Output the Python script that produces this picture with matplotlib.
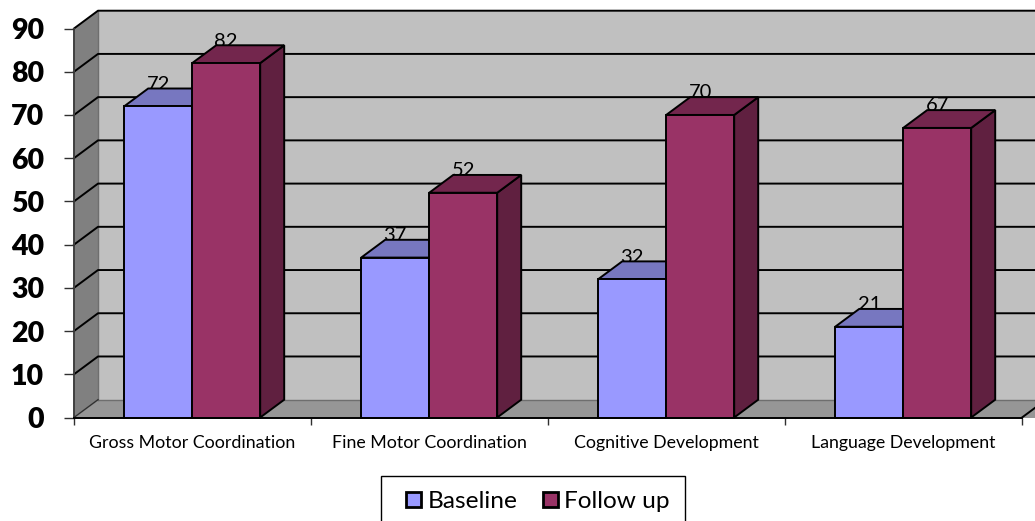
import numpy as np
import matplotlib
matplotlib.use("Agg")
import matplotlib.pyplot as plt
from matplotlib.patches import Patch, Polygon, Rectangle
from matplotlib.legend_handler import HandlerPatch

categories = ["Gross Motor Coordination", "Fine Motor Coordination",
              "Cognitive Development", "Language Development"]
baseline = [72, 37, 32, 21]
follow_up = [82, 52, 70, 67]
y_ticks = [0, 10, 20, 30, 40, 50, 60, 70, 80, 90]

W, H = 1035, 521
plt.rcParams['font.family'] = ['Lato', 'DejaVu Sans']

fig = plt.figure(figsize=(W / 100, H / 100), dpi=100)
# axes box is the front plane of the 3d chart
ax = fig.add_axes([74 / W, 1 - 417.5 / H, 948 / W, 389 / H])
ax.set_xlim(0, 4)
ax.set_ylim(0, 90)
ax.patch.set_visible(False)

# depth of the fake 3d box, in axis units
dx = 24 / 237
dy = 17.8 / (389 / 90)
bar_w = 68 / 237
bar_off = 50.2 / 237
xr = 4.2
edge = 1.4


def poly(pts, color, z, ec='none', lw=0):
    ax.add_patch(Polygon(pts, closed=True, facecolor=color, edgecolor=ec,
                         linewidth=lw, zorder=z, clip_on=False, joinstyle='miter'))


# walls and floor
poly([(dx, dy), (xr, dy), (xr, 90 + dy), (dx, 90 + dy)], '#c0c0c0', 1)
poly([(0, 0), (dx, dy), (dx, 90 + dy), (0, 90)], '#808080', 1.1)
poly([(0, 0), (xr, 0), (xr, dy), (dx, dy)], '#969696', 1.1)
ax.plot([dx, dx], [dy, 90 + dy], color='#6e6e6e', lw=1, zorder=1.2, clip_on=False)
ax.plot([dx, xr], [dy, dy], color='#6e6e6e', lw=1, zorder=1.2, clip_on=False)

# gridlines run across the back wall and down the side wall
for v in y_ticks[1:]:
    ax.plot([0, dx, xr], [v, v + dy, v + dy], color='black', lw=edge,
            zorder=1.5, clip_on=False)
ax.plot([0, 0], [0, 90], color='#404040', lw=edge, zorder=1.5, clip_on=False)
ax.plot([0, dx], [0, dy], color='#303030', lw=1, zorder=1.5, clip_on=False)
ax.plot([4, 4 + dx], [0, dy], color='black', lw=edge, zorder=1.5, clip_on=False)


def bar3d(x, v, front, top, side, z):
    poly([(x + bar_w, 0), (x + bar_w + dx, dy), (x + bar_w + dx, v + dy), (x + bar_w, v)],
         side, z, 'black', edge)
    poly([(x, v), (x + bar_w, v), (x + bar_w + dx, v + dy), (x + dx, v + dy)],
         top, z, 'black', edge)
    ax.bar(x, v, bar_w, align='edge', color=front, edgecolor='black',
           linewidth=edge, zorder=z, clip_on=False)


for i in range(len(categories)):
    x0 = i + bar_off
    x1 = x0 + bar_w
    # labels sit just behind the bar tops
    ax.text(x0 + bar_w / 2, baseline[i] + dy - 0.3, str(baseline[i]), ha='center', va='baseline',
            fontsize=14.5, zorder=2)
    ax.text(x1 + bar_w / 2, follow_up[i] + dy - 0.3, str(follow_up[i]), ha='center', va='baseline',
            fontsize=14.5, zorder=2)
    bar3d(x0, baseline[i], '#9999ff', '#7777c0', '#5f5fa0', 3 + i * 0.1)
    bar3d(x1, follow_up[i], '#993366', '#73264d', '#602040', 3.05 + i * 0.1)

for s in ['top', 'right', 'left']:
    ax.spines[s].set_visible(False)
ax.spines['bottom'].set_zorder(6)
ax.spines['bottom'].set_linewidth(edge)

ax.set_yticks(y_ticks)
ax.set_yticklabels([str(v) for v in y_ticks], fontsize=20.5, fontweight='heavy')
ax.tick_params(axis='y', length=7.5, width=1, pad=14, color='#303030')
ax.set_xticks(np.arange(0, 5))
ax.set_xticklabels([])
ax.tick_params(axis='x', length=5, width=1, color='#303030')
for i, c in enumerate(categories):
    ax.annotate(c, (i + 0.5, 0), xytext=(0, -18.5), textcoords='offset points',
                ha='center', va='center', fontsize=12.8)


def small_square(legend, orig_handle, xdescent, ydescent, width, height, fontsize):
    # keep the swatch at the right of its handle box
    side = 15 * 0.72
    return Rectangle((width - side, (height - side) / 2 - 0.5), side, side)


leg = fig.legend(handles=[Patch(facecolor='#9999ff', edgecolor='black', linewidth=2, label='Baseline'),
                          Patch(facecolor='#993366', edgecolor='black', linewidth=2, label='Follow up')],
                 handler_map={Patch: HandlerPatch(patch_func=small_square)},
                 loc='upper center', bbox_to_anchor=(533 / W, 1 - 476 / H), ncol=2,
                 fontsize=17.6, frameon=True, fancybox=False, edgecolor='black', framealpha=1,
                 handlelength=1.0, handleheight=0.75, handletextpad=0.28, columnspacing=0.64,
                 borderpad=0.6, borderaxespad=0)
leg.get_frame().set_linewidth(1)

fig.savefig('out.png', dpi=100)
